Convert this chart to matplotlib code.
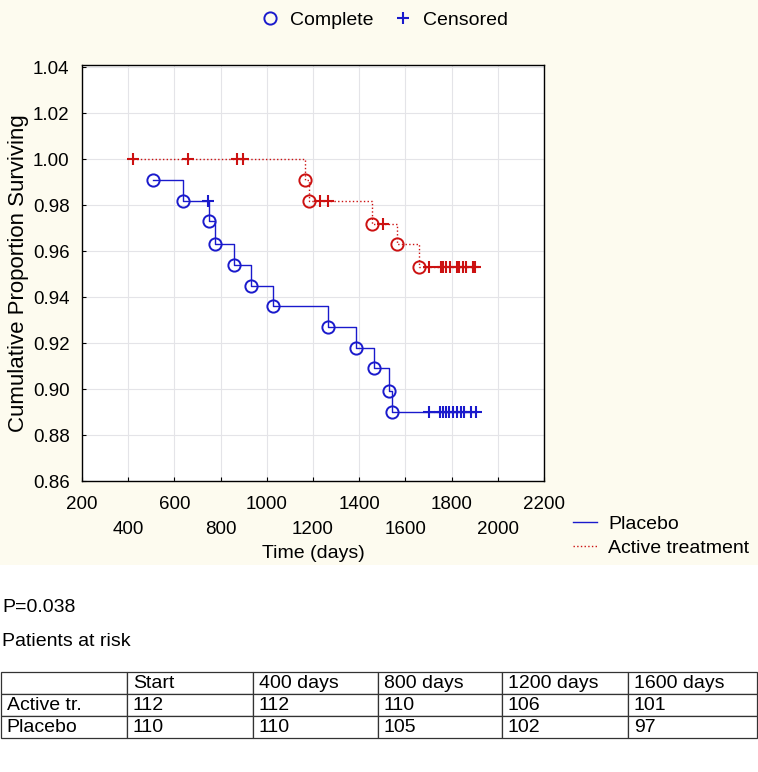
import matplotlib
matplotlib.use("Agg")
import matplotlib.pyplot as plt
from matplotlib.patches import Rectangle
from matplotlib.lines import Line2D

plt.rcParams['font.family'] = ['Liberation Sans', 'DejaVu Sans']

# ---------------- data ----------------
# Placebo: observation times (days), survival after each, event(1)/censored(0)
placebo_t = [509, 638, 747, 748, 776, 858, 930, 1028, 1263, 1385, 1465, 1528, 1541,
             1700, 1750, 1762, 1775, 1790, 1805, 1822, 1840, 1855, 1882, 1904]
placebo_s = [0.991, 0.982, 0.982, 0.973, 0.963, 0.954, 0.945, 0.936, 0.927, 0.918, 0.909, 0.899, 0.890,
             0.890, 0.890, 0.890, 0.890, 0.890, 0.890, 0.890, 0.890, 0.890, 0.890, 0.890]
placebo_e = [1, 1, 0, 1, 1, 1, 1, 1, 1, 1, 1, 1, 1,
             0, 0, 0, 0, 0, 0, 0, 0, 0, 0, 0]

active_t = [422, 660, 870, 895, 1165, 1184, 1230, 1263, 1454, 1501, 1565, 1660,
            1704, 1755, 1764, 1776, 1793, 1822, 1833, 1850, 1862, 1891, 1902]
active_s = [1.000, 1.000, 1.000, 1.000, 0.991, 0.982, 0.982, 0.982, 0.972, 0.972, 0.963, 0.953,
            0.953, 0.953, 0.953, 0.953, 0.953, 0.953, 0.953, 0.953, 0.953, 0.953, 0.953]
active_e = [0, 0, 0, 0, 1, 1, 0, 0, 1, 0, 1, 1,
            0, 0, 0, 0, 0, 0, 0, 0, 0, 0, 0]

xticks_row1 = [200, 600, 1000, 1400, 1800, 2200]
xticks_row2 = [400, 800, 1200, 1600, 2000]
yticks = [0.86, 0.88, 0.90, 0.92, 0.94, 0.96, 0.98, 1.00, 1.02, 1.04]

p_value_text = "P=0.038"
risk_header = ["", "Start", "400 days", "800 days", "1200 days", "1600 days"]
risk_active = ["Active tr.", "112", "112", "110", "106", "101"]
risk_placebo = ["Placebo", "110", "110", "105", "102", "97"]

BLUE = '#1a1acc'
RED = '#cc1111'
FS = 14
TFS = 13.5

# ---------------- figure ----------------
W, H = 758, 772
fig = plt.figure(figsize=(W / 100, H / 100), dpi=100)
fig.patch.set_facecolor('white')
fig.patches.append(Rectangle((0, 1 - 565 / H), 1, 565 / H, transform=fig.transFigure,
                             facecolor='#fdfbef', edgecolor='none', zorder=-10))

def px_axes(x0, y0, x1, y1):
    return fig.add_axes([x0 / W, 1 - y1 / H, (x1 - x0) / W, (y1 - y0) / H])

ax = px_axes(82, 65, 544, 481)
ax.set_facecolor('white')

def draw(t, s, e, color, ls):
    ax.plot(t, s, drawstyle='steps-post', color=color, lw=1.0, ls=ls, zorder=3)
    ev_t = [a for a, f in zip(t, e) if f == 1]
    ev_s = [b for b, f in zip(s, e) if f == 1]
    ce_t = [a for a, f in zip(t, e) if f == 0]
    ce_s = [b for b, f in zip(s, e) if f == 0]
    ax.plot(ev_t, ev_s, ls='none', marker='o', ms=8.8, mfc='none', mec=color, mew=1.4, zorder=4)
    ax.plot(ce_t, ce_s, ls='none', marker='+', ms=9, mec=color, mew=1.5, zorder=4)

draw(placebo_t, placebo_s, placebo_e, BLUE, '-')
draw(active_t, active_s, active_e, RED, ':')

ax.set_xlim(200, 2200)
ax.set_ylim(0.86, 1.041)
ax.set_xticks(xticks_row1)
ax.set_xticklabels([str(v) for v in xticks_row1])
ax.set_xticks(xticks_row2, minor=True)
ax.set_xticklabels([str(v) for v in xticks_row2], minor=True)
ax.set_yticks(yticks)
ax.set_yticklabels([f"{v:.2f}" for v in yticks])
ax.tick_params(axis='both', which='both', direction='in', length=3, width=0.8,
               labelsize=TFS, colors='black')
ax.tick_params(axis='x', which='major', pad=10.5)
ax.tick_params(axis='x', which='minor', pad=28.5)
ax.tick_params(axis='y', pad=9)
ax.grid(True, which='both', color='#e4e4e8', lw=0.8, zorder=0)
ax.set_axisbelow(True)
for sp in ax.spines.values():
    sp.set_color('black')
    sp.set_linewidth(1.0)

ax.set_xlabel("Time (days)", fontsize=FS, labelpad=5.5)
ax.set_ylabel("Cumulative Proportion Surviving", fontsize=16, labelpad=3)

# top legend (Complete / Censored)
h1 = Line2D([], [], ls='none', marker='o', ms=8.8, mfc='none', mec=BLUE, mew=1.4)
h2 = Line2D([], [], ls='none', marker='+', ms=9, mec=BLUE, mew=1.5)
fig.legend([h1, h2], ["Complete", "Censored"], loc='center', bbox_to_anchor=(384 / W, 1 - 20 / H),
           ncol=2, frameon=False, fontsize=FS, handlelength=1.0, handletextpad=0.55,
           columnspacing=1.0, borderpad=0, borderaxespad=0)

# bottom-right legend (groups)
h3 = Line2D([], [], color=BLUE, lw=1.0, ls='-')
h4 = Line2D([], [], color=RED, lw=1.0, ls=':')
fig.legend([h3, h4], ["Placebo", "Active treatment"], loc='upper left',
           bbox_to_anchor=(573 / W, 1 - 515 / H), frameon=False, fontsize=FS,
           handlelength=1.25, handletextpad=0.55, labelspacing=0.36,
           borderpad=0, borderaxespad=0)

# text below
fig.text(2 / W, 1 - 607 / H, p_value_text, fontsize=FS, va='center', ha='left')
fig.text(2 / W, 1 - 642 / H, "Patients at risk", fontsize=FS, va='center', ha='left')

# table
tax = px_axes(1, 672, 757, 738)
tax.axis('off')
cells = [risk_header, risk_active, risk_placebo]
tbl = tax.table(cellText=cells, cellLoc='left', bbox=[0, 0, 1, 1])
colw = [126, 126, 125, 124, 126, 129]
tot = sum(colw)
for (r, c), cell in tbl.get_celld().items():
    cell.set_width(colw[c] / tot)
    cell.set_edgecolor('#333333')
    cell.set_linewidth(0.9)
    cell.PAD = 0.045
    cell.get_text().set_fontsize(FS)
tbl.auto_set_font_size(False)

fig.savefig('out.png', dpi=100, facecolor=fig.get_facecolor())
